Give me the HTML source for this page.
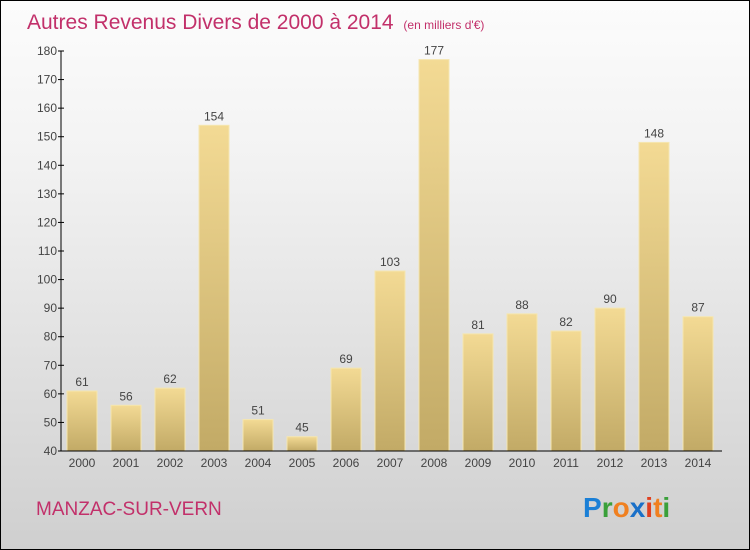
<!DOCTYPE html>
<html><head><meta charset="utf-8"><style>
html,body{margin:0;padding:0}
body{width:750px;height:550px;overflow:hidden;font-family:"Liberation Sans",sans-serif}
#wrap{position:relative;width:748px;height:548px;border:1px solid #000;background:linear-gradient(#fcfcfc,#f2f2f2 30%,#cfcfcf)}
</style></head><body>
<div id="wrap">
<svg width="748" height="548" style="position:absolute;left:0;top:0">
<defs>
<linearGradient id="bg" x1="0" y1="0" x2="0" y2="1"><stop offset="0" stop-color="#f3da94"/><stop offset="1" stop-color="#c2aa66"/></linearGradient>
</defs>
<text x="26" y="28" font-size="21" fill="#c2306a">Autres Revenus Divers de 2000 à 2014 <tspan font-size="12" dx="4">(en milliers d'€)</tspan></text>
<g id="plot"></g>
<text x="35" y="514" font-size="19" fill="#c2306a">MANZAC-SUR-VERN</text>
<g font-size="28" font-weight="bold">
<text x="582" y="516"><tspan fill="#1a7fd6">P</tspan><tspan fill="#3aa03a">r</tspan><tspan fill="#f08020">o</tspan><tspan fill="#1a70c8">x</tspan><tspan fill="#e04020">i</tspan><tspan fill="#f08020">t</tspan><tspan fill="#3aa03a">i</tspan></text>
</g>
</svg>
</div>
<script>
const years=["2000","2001","2002","2003","2004","2005","2006","2007","2008","2009","2010","2011","2012","2013","2014"];
const values=[61,56,62,154,51,45,69,103,177,81,88,82,90,148,87];
const yTicks=[40,50,60,70,80,90,100,110,120,130,140,150,160,170,180];
const NS="http://www.w3.org/2000/svg";
const g=document.getElementById('plot');
const x0=60,x1=721,yTop=50,yBot=450,vMin=40,vMax=180;
const y=v=>yBot-(v-vMin)*(yBot-yTop)/(vMax-vMin);
const step=44,first=81;
const xc=i=>first+i*step;
function mk(t,a,txt){const e=document.createElementNS(NS,t);for(const k in a)e.setAttribute(k,a[k]);if(txt!==undefined)e.textContent=txt;g.appendChild(e);return e;}
values.forEach((v,i)=>{
 const r=mk('rect',{x:xc(i)-15,y:y(v),width:30,height:yBot-y(v),fill:'url(#bg)',stroke:'#f5e6b0','stroke-width':1});
 
 
 const t=mk('text',{x:xc(i),y:y(v)-5,'text-anchor':'middle','font-size':12,fill:'#444'},String(v));
 
 
 const xl=mk('text',{x:xc(i),y:466,'text-anchor':'middle','font-size':12,fill:'#444'},years[i]);
 
 
});
const ya=mk('line',{x1:x0,y1:yTop,x2:x0,y2:yBot,stroke:'#000'});


const xa=mk('line',{x1:x0,y1:yBot,x2:x1,y2:yBot,stroke:'#000'});


yTicks.forEach(v=>{
 mk('line',{x1:x0-3,y1:y(v),x2:x0+3,y2:y(v),stroke:'#000'});
 const t=mk('text',{x:x0-4,y:y(v)+4,'text-anchor':'end','font-size':12,fill:'#444'},String(v));
 
 
});
</script>
</body></html>
